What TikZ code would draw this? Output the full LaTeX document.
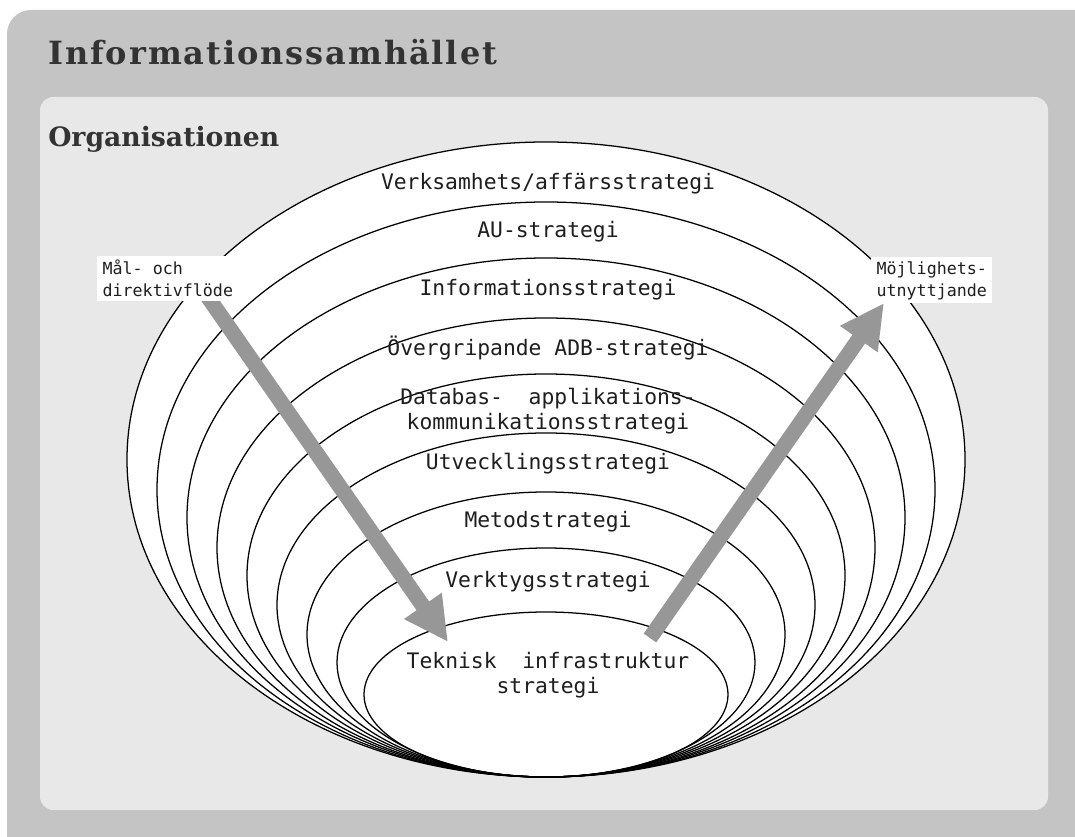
\documentclass[tikz,border=0pt]{standalone}
\usepackage{fontspec}
\usetikzlibrary{arrows.meta}
\newfontfamily\plotfont{DejaVu Sans Mono}
\newfontfamily\headfont{DejaVu Serif}
\newfontfamily\titlefont[LetterSpace=6]{DejaVu Serif}
\definecolor{framegray}{HTML}{C4C4C4}
\definecolor{panelgray}{HTML}{E8E8E8}
\definecolor{arrowgray}{HTML}{979797}
\definecolor{headink}{HTML}{333333}
\definecolor{plotink}{HTML}{1E1E1E}
\tikzset{
  ringline/.style={draw=black, line width=0.95pt},
  flowarrow/.style={draw=arrowgray, line width=11.5pt,
    -{Triangle[length=33pt,width=32pt]}},
  bandlabel/.style={font=\plotfont\fontsize{16}{18.5}\selectfont,
    text=plotink, align=center, inner sep=0pt},
  sidelabel/.style={font=\plotfont\fontsize{12.5}{16.5}\selectfont,
    text=plotink, align=left, fill=white, inner xsep=4pt, inner ysep=3pt},
  headline/.style={font=\titlefont\bfseries\fontsize{24}{28}\selectfont,
    text=headink, inner sep=0pt, anchor=base west},
  subheadline/.style={font=\headfont\bfseries\fontsize{20}{24}\selectfont,
    text=headink, inner sep=0pt, anchor=base west}
}
\begin{document}
\begin{tikzpicture}[x=0.75pt, y=-0.75pt]
\useasboundingbox (0,0) rectangle (1075,837);
\fill[white] (0,0) rectangle (1075,837);
% outer frame and inner panel
\begin{scope}
  \clip (0,0) rectangle (1075,837);
  \fill[framegray, rounded corners=18pt] (7,10) rectangle (1110,870);
\end{scope}
\fill[panelgray, rounded corners=10pt] (40,97) rectangle (1048,810);

% nested strategy levels, all touching at the bottom
\fill[white] (546,459.5) ellipse [x radius=314.25pt, y radius=238.125pt];
\foreach \t/\a in {142/419, 202/389, 258/359, 318/329, 374/299,
                   433/269, 492/239, 548/209, 612/182}
  \draw[ringline] (546,{(777+\t)/2})
    ellipse [x radius={\a*0.75pt}, y radius={(777-\t)*0.375pt}];

% flows
\coordinate (inTail) at (203,290);
\coordinate (inTip) at (448,642);
\coordinate (outTail) at (650,638);
\coordinate (outTip) at (884,303);
\draw[flowarrow] (inTail) -- (inTip);
\draw[flowarrow] (outTail) -- (outTip);

% level names
\node[bandlabel] (lvlA) at (548,184) {Verksamhets/affärsstrategi};
\node[bandlabel] (lvlB) at (548,232) {AU-strategi};
\node[bandlabel] (lvlC) at (548,290) {Informationsstrategi};
\node[bandlabel] (lvlD) at (548,348) {Övergripande ADB-strategi};
\node[bandlabel] (lvlE) at (548,411) {Databas-\ \ applikations-\\kommunikationsstrategi};
\node[bandlabel] (lvlF) at (548,464) {Utvecklingsstrategi};
\node[bandlabel] (lvlG) at (548,522) {Metodstrategi};
\node[bandlabel] (lvlH) at (548,582) {Verktygsstrategi};
\node[bandlabel] (lvlI) at (548,675) {Teknisk\ \ infrastruktur\\strategi};

% flow names
\node[sidelabel, anchor=north west] (goalflow) at (97,256) {Mål- och\\direktivflöde};
\node[sidelabel, anchor=north west] (chanceflow) at (871,257) {Möjlighets-\\utnyttjande};

% headings
\node[headline] (society) at (48,65) {Informationssamhället};
\node[subheadline] (organisation) at (48,147) {Organisationen};
\end{tikzpicture}
\end{document}
